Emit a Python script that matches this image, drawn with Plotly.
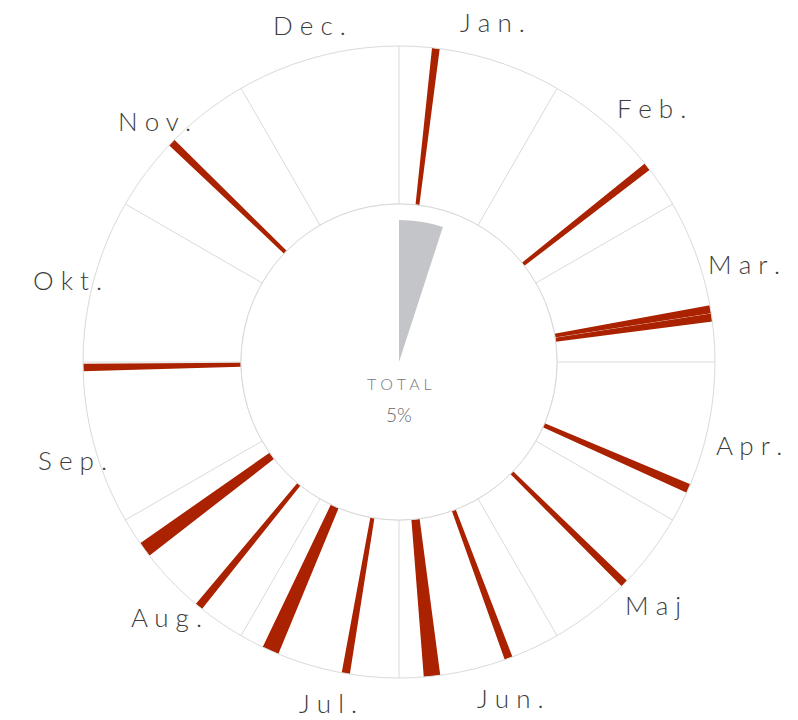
import plotly.graph_objects as go

# ---- data -------------------------------------------------------------
months = ["Jan.", "Feb.", "Mar.", "Apr.", "Maj", "Jun.",
          "Jul.", "Aug.", "Sep.", "Okt.", "Nov.", "Dec."]

# events around the year: angular position (deg, clockwise from top) and width (deg)
event_theta = [6.7, 51.8, 80.4, 81.9, 113.6, 134.5, 159.7, 174.0,
               189.7, 204.0, 219.3, 233.6, 269.0, 314.0]
event_width = [1.4, 1.45, 1.45, 1.5, 1.65, 1.4, 1.5, 3.0,
               1.5, 3.1, 1.45, 2.8, 1.4, 1.4]

total_pct = 5

# ---- geometry / style -------------------------------------------------
W, H = 798, 720
CX, CY, R = 399, 362, 316      # chart centre and outer radius (px)
R_PIE = 142                    # radius of the centre wedge (px)
RED = "#aa2200"
GRID = "#dadada"
FONT = "Lato"

# label centres (px) for the month names around the ring
label_px = [(492, 22), (651, 108), (744, 264), (749, 445), (653, 605), (510, 698),
            (328, 703), (166, 617), (72, 460), (67, 280), (154, 121), (309, 25)]


def spaced(s):
    return " ".join(list(s))


fig = go.Figure()

# month sectors: the bars span the whole ring
fig.add_trace(go.Barpolar(
    r=[1] * len(event_theta),
    theta=event_theta,
    width=event_width,
    base=0,
    marker=dict(color=RED, line=dict(width=0)),
    hoverinfo="theta",
))

# inner border of the ring
circle_theta = list(range(0, 361, 2))
fig.add_trace(go.Scatterpolar(
    r=[0] * len(circle_theta),
    theta=circle_theta,
    mode="lines",
    line=dict(color=GRID, width=1),
    hoverinfo="skip",
    cliponaxis=False,
))

# centre wedge showing the total share
fig.add_trace(go.Pie(
    values=[total_pct, 100 - total_pct],
    sort=False,
    direction="clockwise",
    rotation=0,
    marker=dict(colors=["#c4c5c8", "rgba(0,0,0,0)"], line=dict(width=0)),
    textinfo="none",
    hoverinfo="skip",
    domain=dict(x=[(CX - R_PIE) / W, (CX + R_PIE) / W],
                y=[(H - CY - R_PIE) / H, (H - CY + R_PIE) / H]),
))

fig.update_layout(
    width=W, height=H,
    margin=dict(l=0, r=0, t=0, b=0),
    paper_bgcolor="white",
    showlegend=False,
    polar=dict(
        domain=dict(x=[(CX - R) / W, (CX + R) / W],
                    y=[(H - CY - R) / H, (H - CY + R) / H]),
        hole=0.5,
        bgcolor="white",
        radialaxis=dict(visible=False, range=[0, 1]),
        angularaxis=dict(
            rotation=90,
            direction="clockwise",
            tickmode="array",
            tickvals=list(range(0, 360, 30)),
            showticklabels=False,
            ticks="",
            showgrid=True,
            gridcolor=GRID,
            gridwidth=1,
            showline=True,
            linecolor=GRID,
            linewidth=1,
        ),
    ),
)

annotations = []
for name, (px, py) in zip(months, label_px):
    annotations.append(dict(
        x=px / W, y=1 - py / H, xref="paper", yref="paper",
        text=spaced(name), showarrow=False,
        xanchor="center", yanchor="middle",
        font=dict(family=FONT, size=26, color="#3c3c3c", weight=300),
    ))

annotations.append(dict(
    x=CX / W, y=1 - 383 / H, xref="paper", yref="paper",
    text=spaced("TOTAL"), showarrow=False,
    xanchor="center", yanchor="middle",
    font=dict(family=FONT, size=16, color="#777777", weight=300),
))
annotations.append(dict(
    x=CX / W, y=1 - 415 / H, xref="paper", yref="paper",
    text=f"{total_pct}%", showarrow=False,
    xanchor="center", yanchor="middle",
    font=dict(family=FONT, size=19, color="#666666", weight=300),
))
fig.update_layout(annotations=annotations)

fig.write_html("out.html")
